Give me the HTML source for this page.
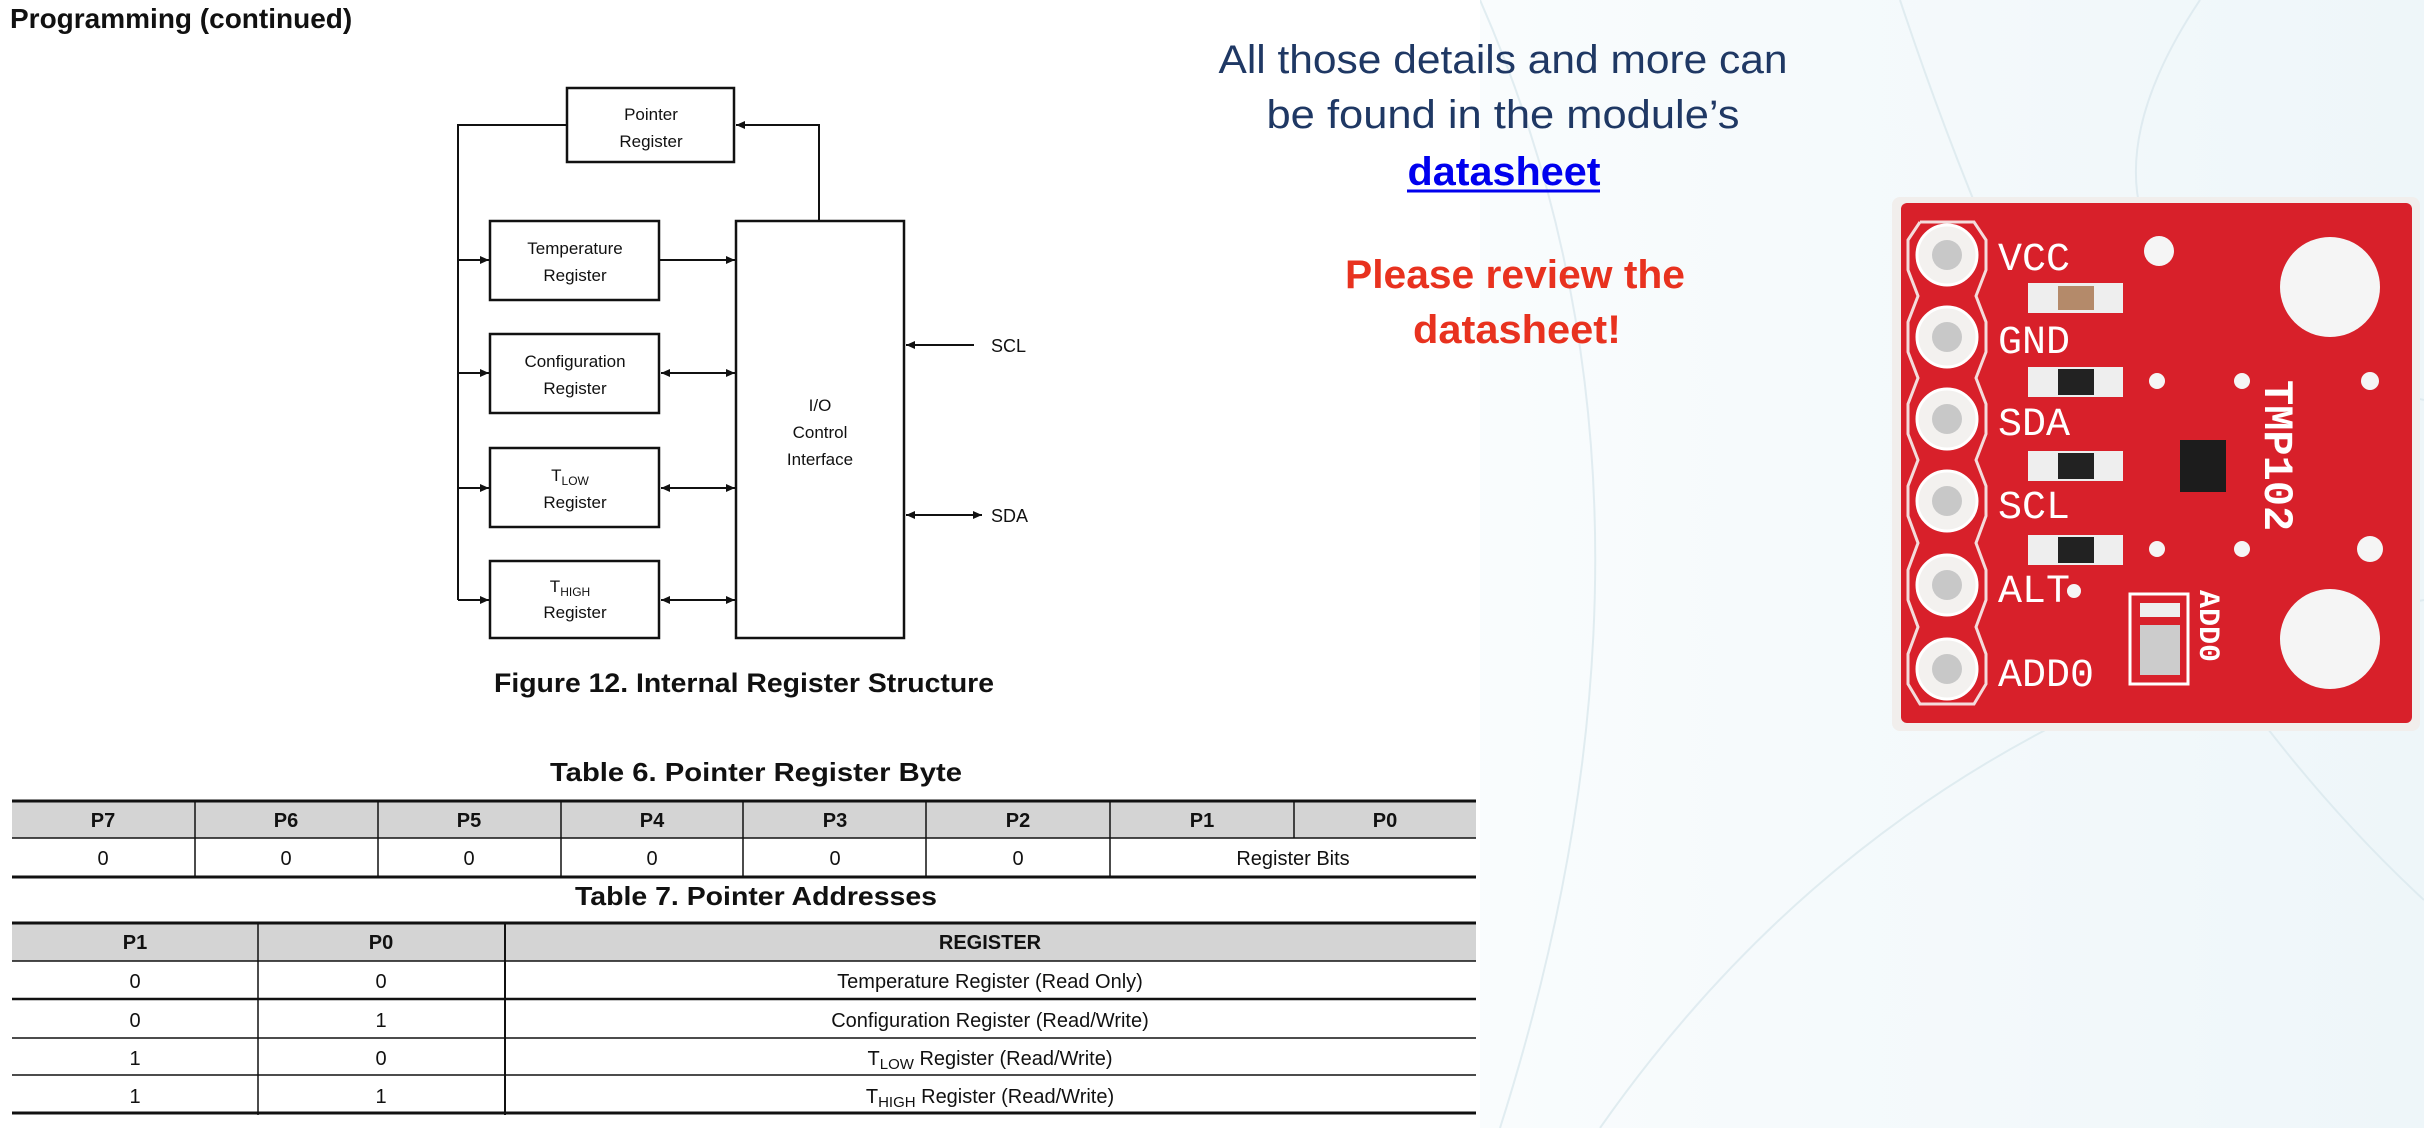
<!DOCTYPE html>
<html><head><meta charset="utf-8"><style>
html,body{margin:0;padding:0;background:#fff;}
svg{display:block;}
</style></head><body>
<svg width="2424" height="1128" viewBox="0 0 2424 1128" xmlns="http://www.w3.org/2000/svg" font-family="'Liberation Sans',Arial,sans-serif">
<defs>
<marker id="a" viewBox="0 0 10 10" refX="10" refY="5" markerWidth="13" markerHeight="9" orient="auto-start-reverse" markerUnits="userSpaceOnUse"><path d="M0,0.5 L10,5 L0,9.5 z" fill="#111"/></marker>
<linearGradient id="bg" x1="0" y1="0" x2="1" y2="0"><stop offset="0" stop-color="#ffffff"/><stop offset="0.55" stop-color="#fbfdfe"/><stop offset="1" stop-color="#eef6f9"/></linearGradient>
</defs>
<rect width="2424" height="1128" fill="url(#bg)"/>
<g stroke="#dbe9ee" stroke-width="2" fill="none" opacity="0.8">
<path d="M1480,0 Q1700,500 1500,1128"/><path d="M1900,0 Q2100,600 2424,900"/><path d="M1600,1128 Q1900,700 2424,600"/><path d="M2200,0 Q2000,300 2424,400"/>
</g>
<rect x="0" y="0" width="1480" height="1128" fill="#fff"/>

<text x="10" y="28" font-size="28" font-weight="bold" fill="#111">Programming (continued)</text>

<!-- diagram -->
<g stroke="#111" stroke-width="2.5" fill="#fff">
<rect x="567" y="88" width="167" height="74"/>
<rect x="490" y="221" width="169" height="79"/>
<rect x="490" y="334" width="169" height="79"/>
<rect x="490" y="448" width="169" height="79"/>
<rect x="490" y="561" width="169" height="77"/>
<rect x="736" y="221" width="168" height="417"/>
</g>
<g stroke="#111" stroke-width="2" fill="none">
<polyline points="567,125 458,125 458,600"/>
<line x1="458" y1="260" x2="489" y2="260" marker-end="url(#a)"/>
<line x1="458" y1="373" x2="489" y2="373" marker-end="url(#a)"/>
<line x1="458" y1="488" x2="489" y2="488" marker-end="url(#a)"/>
<line x1="458" y1="600" x2="489" y2="600" marker-end="url(#a)"/>
<polyline points="819,221 819,125 736,125" marker-end="url(#a)"/>
<line x1="660" y1="260" x2="735" y2="260" marker-end="url(#a)"/>
<line x1="661" y1="373" x2="735" y2="373" marker-start="url(#a)" marker-end="url(#a)"/>
<line x1="661" y1="488" x2="735" y2="488" marker-start="url(#a)" marker-end="url(#a)"/>
<line x1="661" y1="600" x2="735" y2="600" marker-start="url(#a)" marker-end="url(#a)"/>
<line x1="974" y1="345" x2="906" y2="345" marker-end="url(#a)"/>
<line x1="906" y1="515" x2="982" y2="515" marker-start="url(#a)" marker-end="url(#a)"/>
</g>
<g font-size="17" fill="#111" text-anchor="middle">
<text x="651" y="120">Pointer</text><text x="651" y="147">Register</text>
<text x="575" y="254">Temperature</text><text x="575" y="281">Register</text>
<text x="575" y="367">Configuration</text><text x="575" y="394">Register</text>
<text x="570" y="481">T<tspan font-size="12" dy="4">LOW</tspan></text><text x="575" y="508">Register</text>
<text x="570" y="592">T<tspan font-size="12" dy="4">HIGH</tspan></text><text x="575" y="618">Register</text>
<text x="820" y="411">I/O</text><text x="820" y="438">Control</text><text x="820" y="465">Interface</text>
</g>
<text x="991" y="352" font-size="18" fill="#111">SCL</text>
<text x="991" y="522" font-size="18" fill="#111">SDA</text>
<text x="744" y="692" font-size="27" font-weight="bold" fill="#111" text-anchor="middle" textLength="500" lengthAdjust="spacingAndGlyphs">Figure 12.  Internal Register Structure</text>

<!-- Table 6 -->
<text x="756" y="781" font-size="26" font-weight="bold" fill="#111" text-anchor="middle" textLength="412" lengthAdjust="spacingAndGlyphs">Table 6. Pointer Register Byte</text>
<rect x="12" y="801" width="1464" height="37" fill="#d4d4d4"/>
<g stroke="#111" fill="none">
<line x1="12" y1="801" x2="1476" y2="801" stroke-width="3"/>
<line x1="12" y1="838" x2="1476" y2="838" stroke-width="1.5"/>
<line x1="12" y1="877" x2="1476" y2="877" stroke-width="3"/>
<g stroke-width="1.5">
<line x1="195" y1="801" x2="195" y2="877"/><line x1="378" y1="801" x2="378" y2="877"/>
<line x1="561" y1="801" x2="561" y2="877"/><line x1="743" y1="801" x2="743" y2="877"/>
<line x1="926" y1="801" x2="926" y2="877"/><line x1="1110" y1="801" x2="1110" y2="877"/>
<line x1="1294" y1="801" x2="1294" y2="838"/>
</g></g>
<g font-size="20" fill="#111" text-anchor="middle">
<g font-weight="bold">
<text x="103" y="827">P7</text><text x="286" y="827">P6</text><text x="469" y="827">P5</text><text x="652" y="827">P4</text><text x="835" y="827">P3</text><text x="1018" y="827">P2</text><text x="1202" y="827">P1</text><text x="1385" y="827">P0</text>
</g>
<text x="103" y="865">0</text><text x="286" y="865">0</text><text x="469" y="865">0</text><text x="652" y="865">0</text><text x="835" y="865">0</text><text x="1018" y="865">0</text>
<text x="1293" y="865">Register Bits</text>
</g>

<!-- Table 7 -->
<text x="756" y="905" font-size="26" font-weight="bold" fill="#111" text-anchor="middle" textLength="362" lengthAdjust="spacingAndGlyphs">Table 7. Pointer Addresses</text>
<rect x="12" y="923" width="1464" height="38" fill="#d4d4d4"/>
<g stroke="#111" fill="none">
<line x1="12" y1="923" x2="1476" y2="923" stroke-width="3"/>
<line x1="12" y1="961" x2="1476" y2="961" stroke-width="1.5"/>
<line x1="12" y1="999" x2="1476" y2="999" stroke-width="2.5"/>
<line x1="12" y1="1038" x2="1476" y2="1038" stroke-width="1.5"/>
<line x1="12" y1="1075" x2="1476" y2="1075" stroke-width="1.5"/>
<line x1="12" y1="1113" x2="1476" y2="1113" stroke-width="3"/>
<line x1="258" y1="923" x2="258" y2="1115" stroke-width="1.5"/>
<line x1="505" y1="923" x2="505" y2="1115" stroke-width="2"/>
</g>
<g font-size="20" fill="#111" text-anchor="middle">
<g font-weight="bold"><text x="135" y="949">P1</text><text x="381" y="949">P0</text><text x="990" y="949">REGISTER</text></g>
<text x="135" y="988">0</text><text x="381" y="988">0</text><text x="990" y="988">Temperature Register (Read Only)</text>
<text x="135" y="1027">0</text><text x="381" y="1027">1</text><text x="990" y="1027">Configuration Register (Read/Write)</text>
<text x="135" y="1065">1</text><text x="381" y="1065">0</text><text x="990" y="1065">T<tspan font-size="15" dy="4">LOW</tspan><tspan dy="-4"> Register (Read/Write)</tspan></text>
<text x="135" y="1103">1</text><text x="381" y="1103">1</text><text x="990" y="1103">T<tspan font-size="15" dy="4">HIGH</tspan><tspan dy="-4"> Register (Read/Write)</tspan></text>
</g>

<!-- right text -->
<g text-anchor="middle">
<text x="1503" y="73" font-size="40" fill="#1f3864" textLength="569" lengthAdjust="spacingAndGlyphs">All those details and more can</text>
<text x="1503" y="128" font-size="40" fill="#1f3864" textLength="473" lengthAdjust="spacingAndGlyphs">be found in the module’s</text>
<text x="1504" y="185" font-size="40" font-weight="bold" fill="#0000ee" textLength="193" lengthAdjust="spacingAndGlyphs">datasheet</text>
<line x1="1407" y1="191" x2="1600" y2="191" stroke="#0000ee" stroke-width="3"/>
<text x="1515" y="288" font-size="40" font-weight="bold" fill="#e8321f" textLength="340" lengthAdjust="spacingAndGlyphs">Please review the</text>
<text x="1517" y="343" font-size="40" font-weight="bold" fill="#e8321f" textLength="208" lengthAdjust="spacingAndGlyphs">datasheet!</text>
</g>

<!-- board -->
<rect x="1892" y="197" width="528" height="534" rx="8" fill="#f1eeec"/>
<rect x="1901" y="203" width="511" height="520" rx="6" fill="#d8202a"/>
<polyline points="1920,222 1974,222 1986,240 1986,270 1976,296 1986,322 1986,352 1976,378 1986,404 1986,434 1976,460 1986,486 1986,516 1976,543 1986,570 1986,600 1976,627 1986,654 1986,684 1974,704 1920,704 1908,684 1908,654 1918,627 1908,600 1908,570 1918,543 1908,516 1908,486 1918,460 1908,434 1908,404 1918,378 1908,352 1908,322 1918,296 1908,270 1908,240 1920,222" fill="none" stroke="#f4dcdc" stroke-width="3"/>
<g fill="#f3f1ef" stroke="#fff" stroke-width="3">
<circle cx="1947" cy="255" r="30"/><circle cx="1947" cy="337" r="30"/><circle cx="1947" cy="419" r="30"/><circle cx="1947" cy="501" r="30"/><circle cx="1947" cy="585" r="30"/><circle cx="1947" cy="669" r="30"/>
</g>
<g fill="#c8c8c8">
<circle cx="1947" cy="255" r="15"/><circle cx="1947" cy="337" r="15"/><circle cx="1947" cy="419" r="15"/><circle cx="1947" cy="501" r="15"/><circle cx="1947" cy="585" r="15"/><circle cx="1947" cy="669" r="15"/>
</g>
<g fill="#f5f5f5">
<circle cx="2330" cy="287" r="50"/><circle cx="2330" cy="639" r="50"/>
<circle cx="2159" cy="251" r="15"/><circle cx="2370" cy="381" r="9"/><circle cx="2370" cy="549" r="13"/>
<circle cx="2157" cy="381" r="8"/><circle cx="2242" cy="381" r="8"/><circle cx="2157" cy="549" r="8"/><circle cx="2242" cy="549" r="8"/><circle cx="2074" cy="591" r="7"/>
</g>
<g font-family="'Liberation Mono',monospace" font-size="40" fill="#fff">
<text x="1998" y="270">VCC</text><text x="1998" y="353">GND</text><text x="1998" y="435">SDA</text><text x="1998" y="518">SCL</text><text x="1998" y="602">ALT</text><text x="1998" y="686">ADD0</text>
</g>
<g>
<rect x="2028" y="283" width="95" height="30" fill="#eee"/><rect x="2058" y="286" width="36" height="24" fill="#b48a6a"/>
<rect x="2028" y="367" width="95" height="30" fill="#eee"/><rect x="2058" y="369" width="36" height="26" fill="#222"/>
<rect x="2028" y="451" width="95" height="30" fill="#eee"/><rect x="2058" y="453" width="36" height="26" fill="#222"/>
<rect x="2028" y="535" width="95" height="30" fill="#eee"/><rect x="2058" y="537" width="36" height="26" fill="#222"/>
</g>
<rect x="2180" y="440" width="46" height="52" fill="#1c1c1c"/>
<text transform="translate(2265,380) rotate(90)" font-family="'Liberation Mono',monospace" font-size="42" font-weight="bold" fill="#fff">TMP102</text>
<text transform="translate(2200,590) rotate(90)" font-family="'Liberation Mono',monospace" font-size="30" font-weight="bold" fill="#fff">ADD0</text>
<rect x="2130" y="594" width="58" height="90" fill="none" stroke="#fff" stroke-width="3"/>
<rect x="2140" y="603" width="40" height="14" fill="#eee"/><rect x="2140" y="625" width="40" height="50" fill="#ccc"/>
</svg>
</body></html>
